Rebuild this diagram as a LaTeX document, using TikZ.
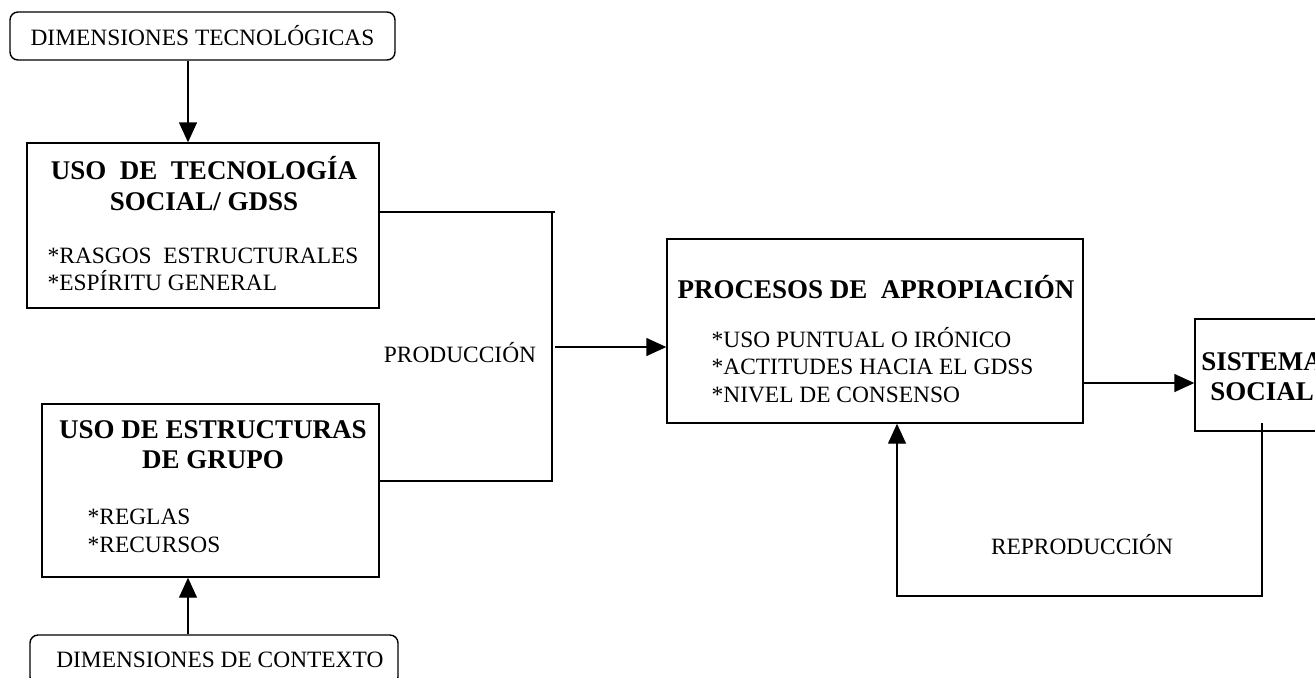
\documentclass[tikz,border=0pt]{standalone}
\usepackage{fontspec}
\setmainfont{Liberation Serif}
\usetikzlibrary{arrows.meta}

\begin{document}
\begin{tikzpicture}
        [x = 0.5pt, y = -0.5pt, line width = 0.7pt, >= {Triangle[length=10pt, width=9pt]},
         box/.style = {draw, rectangle, inner sep = 0pt},
         dimbox/.style = {draw, rectangle, rounded corners = 4pt, inner sep = 0pt,
                          font = \fontsize{11.7}{13.8}\selectfont},
         title/.style = {inner sep = 0pt, align = center, font = \fontsize{13.5}{15.5}\selectfont\bfseries},
         items/.style = {inner sep = 0pt, align = left, anchor = west, font = \fontsize{11.7}{13.6}\selectfont},
         lbl/.style = {inner sep = 0pt, font = \fontsize{11.7}{13.8}\selectfont}]
        \clip (0,0) rectangle (1315,677);
        \fill[white] (0,0) rectangle (1315,677);

        \node[dimbox, minimum width = 192.5pt, minimum height = 24pt] (dimtec) at (202.5,36) {DIMENSIONES TECNOL\'OGICAS};
        \node[box, minimum width = 176pt, minimum height = 82.5pt] (tec) at (203,225.5) {};
        \node[title] (tectitle) at (204,183.5) {USO\ \ DE\ \ TECNOLOG\'IA\\SOCIAL/ GDSS};
        \node[items] (tecitems) at (47,269.5) {*RASGOS\ \ ESTRUCTURALES\\*ESP\'IRITU GENERAL};

        \node[box, minimum width = 168.5pt, minimum height = 86.5pt] (grp) at (210.5,490.5) {};
        \node[title, font = \fontsize{13.5}{15}\selectfont\bfseries] (grptitle) at (213,445) {USO DE ESTRUCTURAS\\DE GRUPO};
        \node[items, font = \fontsize{11.7}{14}\selectfont] (grpitems) at (87,531) {*REGLAS\\*RECURSOS};
        \node[dimbox, minimum width = 184pt, minimum height = 25pt] (dimctx) at (214,660) {\ \ DIMENSIONES DE CONTEXTO};

        \node[box, minimum width = 208pt, minimum height = 92pt] (apr) at (875,331) {};
        \node[title] (aprtitle) at (876,287) {PROCESOS DE\ \ APROPIACI\'ON};
        \node[items] (apritems) at (711,365) {*USO PUNTUAL O IR\'ONICO\\*ACTITUDES HACIA EL GDSS\\*NIVEL DE CONSENSO};

        \node[box, minimum width = 67pt, minimum height = 56pt] (soc) at (1262,375) {};
        \node[title, font = \fontsize{13.5}{15}\selectfont\bfseries] (soctitle) at (1262,377) {SISTEMA\\SOCIAL};

        \node[lbl] (prod) at (460,353) {PRODUCCI\'ON};
        \node[lbl] (reprod) at (1082,545) {REPRODUCCI\'ON};

        \coordinate (downx) at (188,0);
        \coordinate (upx) at (188,0);
        \coordinate (brtop) at (552,212);
        \coordinate (brbot) at (552,481);
        \coordinate (prodin) at (555,347);
        \coordinate (outy) at (0,383);
        \coordinate (fbstart) at (1262,423);
        \coordinate (fbr) at (1262,596);
        \coordinate (fbl) at (897,596);

        \draw[->] (downx |- dimtec.south) -- (downx |- tec.north);
        \draw[->] (upx |- dimctx.north) -- (upx |- grp.south);
        \draw (tec.east |- brtop) -- ([xshift=1.5pt]brtop);
        \draw (brtop) -- (brbot) -- (grp.east |- brbot);
        \draw[->] (prodin) -- (prodin -| apr.west);
        \draw[->] (apr.east |- outy) -- (soc.west |- outy);
        \draw[->] (fbstart) -- (fbr) -- (fbl) -- (fbl |- apr.south);
      \end{tikzpicture}
\end{document}
